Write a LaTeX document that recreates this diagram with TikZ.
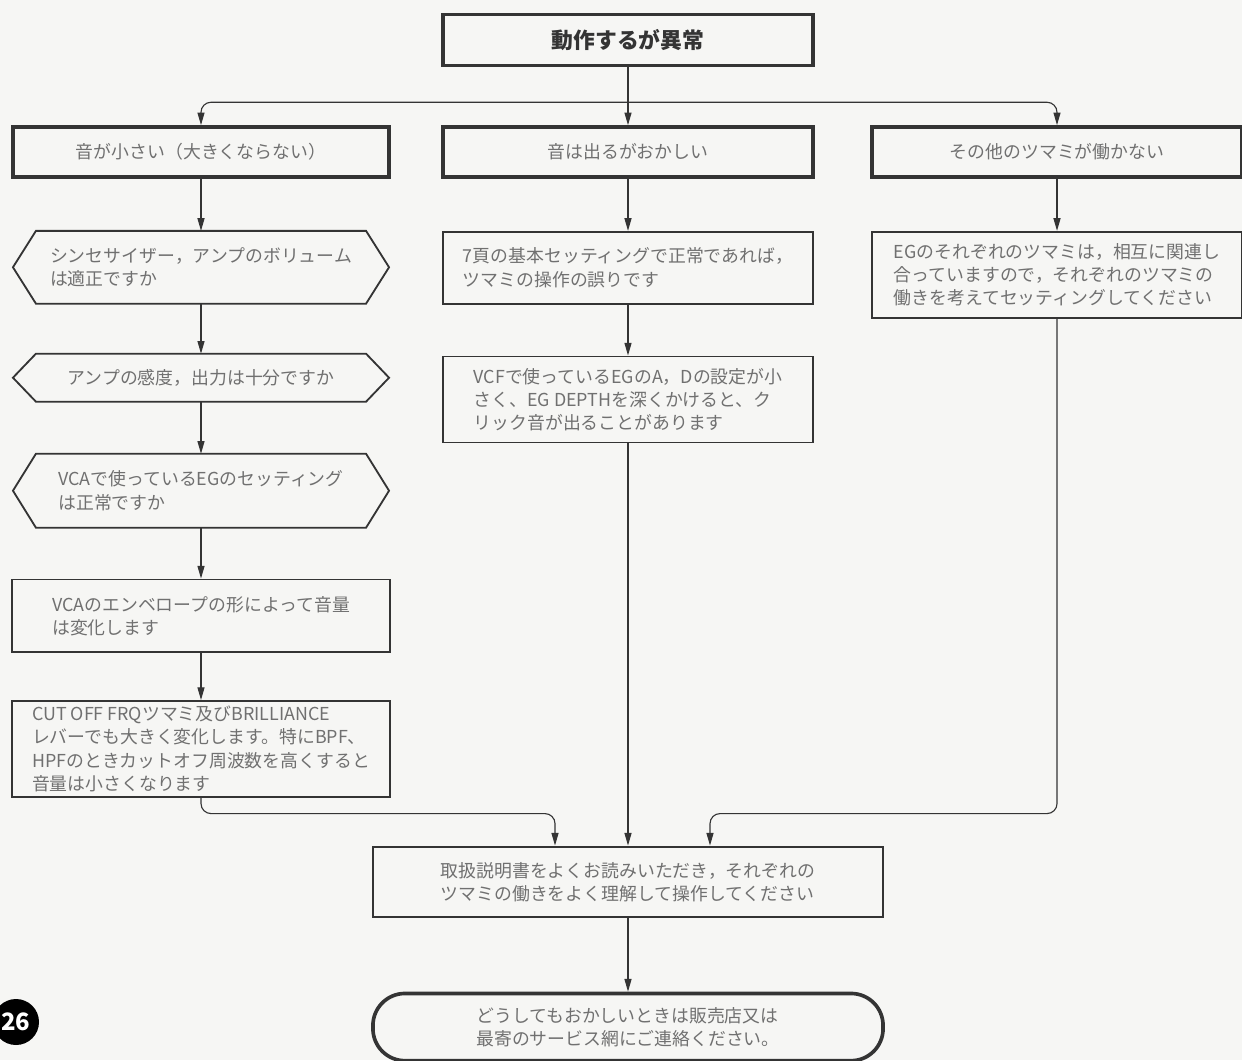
\documentclass[tikz,border=0pt]{standalone}
\usepackage{fontspec}
\setmainfont{Noto Sans CJK JP}
\usetikzlibrary{positioning,calc,arrows.meta}

\definecolor{ink}{RGB}{52,52,52}
\definecolor{print}{RGB}{112,112,112}
\definecolor{paper}{RGB}{246,246,244}

\tikzset{
  headbox/.style={draw=ink, line width=2.6pt, text=print, minimum height=1.25cm},
  box/.style={draw=ink, line width=1.3pt, text=print, align=left, minimum height=#1},
  hexbox/.style={text=print, align=left, minimum width=9.4cm, minimum height=#1, outer sep=0pt},
  endbox/.style={draw=ink, line width=2.6pt, rounded corners=0.8cm, text=print, align=left,
    minimum width=12.75cm, minimum height=1.68cm},
  flow/.style={draw=ink, line width=0.8pt, -{Triangle[length=9pt,width=5pt]}}
}

% six-sided frame round a question node
\newcommand{\hexframe}[1]{%
  \draw[ink, line width=1.3pt] (#1.west) -- ($(#1.north west)+(23,0)$)
    -- ($(#1.north east)+(-23,0)$) -- (#1.east) -- ($(#1.south east)+(-23,0)$)
    -- ($(#1.south west)+(23,0)$) -- cycle;}

\begin{document}
\begin{tikzpicture}[x=0.025cm, y=-0.025cm, font=\fontsize{12.7}{16.5}\selectfont]
  \useasboundingbox[fill=paper] (0,0) rectangle (1242,1060);

  \node[headbox, minimum width=9.25cm, minimum height=1.27cm, text=ink,
        font=\fontsize{15.5}{18}\selectfont\bfseries] (top) at (628,40) {動作するが異常};

  \node[headbox, minimum width=9.4cm] (small) at (201,152) {音が小さい（大きくならない）};
  \node[headbox, minimum width=9.25cm] (odd) at (628,152) {音は出るがおかしい};
  \node[headbox, minimum width=9.25cm] (knob) at (1057,152) {その他のツマミが働かない};

  % left column
  \node[hexbox=1.82cm, below=1.3cm of small] (volume) {シンセサイザー，アンプのボリューム\\は適正ですか};
  \node[hexbox=1.2cm, below=1.25cm of volume] (amp) {アンプの感度，出力は十分ですか};
  \node[hexbox=1.85cm, below=1.3cm of amp] (vcaeg) {VCAで使っているEGのセッティング\\は正常ですか};
  \hexframe{volume}
  \hexframe{amp}
  \hexframe{vcaeg}
  \node[box=1.82cm, minimum width=9.45cm, below=1.27cm of vcaeg] (env) {VCAのエンベロープの形によって音量\\は変化します};
  \node[box=2.4cm, minimum width=9.45cm, below=1.17cm of env] (cutoff)
    {CUT OFF FRQツマミ及びBRILLIANCE\\レバーでも大きく変化します。特にBPF、\\HPFのときカットオフ周波数を高くすると\\音量は小さくなります};

  % middle column
  \node[box=1.8cm, minimum width=9.25cm, below=1.3cm of odd] (basic) {7頁の基本セッティングで正常であれば，\\ツマミの操作の誤りです};
  \node[box=2.15cm, minimum width=9.25cm, below=1.27cm of basic] (click)
    {VCFで使っているEGのA，Dの設定が小\\さく、EG DEPTHを深くかけると、ク\\リック音が出ることがあります};

  % right column
  \node[box=2.15cm, minimum width=9.25cm, below=1.3cm of knob] (related)
    {EGのそれぞれのツマミは，相互に関連し\\合っていますので，それぞれのツマミの\\働きを考えてセッティングしてください};

  \node[box=1.75cm, minimum width=12.75cm, line width=2pt] (manual) at (628,882)
    {取扱説明書をよくお読みいただき，それぞれの\\ツマミの働きをよく理解して操作してください};
  \node[endbox, below=1.83cm of manual] (dealer) {どうしてもおかしいときは販売店又は\\最寄のサービス網にご連絡ください。};

  \node[circle, fill=black, text=white, minimum size=1.15cm, inner sep=0pt,
        font=\fontsize{17}{17}\selectfont\bfseries] (page) at (16,1022) {26};

  % connectors
  \coordinate (split) at ($(top.south)+(0,35)$);
  \coordinate (merge) at ($(manual.north)+(0,-32)$);
  \draw[flow] (top) -- (odd);
  \draw[flow, rounded corners=0.25cm] (split) -| (small);
  \draw[flow, rounded corners=0.25cm] (split) -| (knob);
  \draw[flow] (small) -- (volume);
  \draw[flow] (volume) -- (amp);
  \draw[flow] (amp) -- (vcaeg);
  \draw[flow] (vcaeg) -- (env);
  \draw[flow] (env) -- (cutoff);
  \draw[flow] (odd) -- (basic);
  \draw[flow] (basic) -- (click);
  \draw[flow] (knob) -- (related);
  \draw[flow, rounded corners=0.25cm] (cutoff.south) |- ($(merge)+(-73,0)$) -- ($(manual.north)+(-73,0)$);
  \draw[flow] (click) -- (manual);
  \draw[flow, rounded corners=0.25cm] (related.south) |- ($(merge)+(82,0)$) -- ($(manual.north)+(82,0)$);
  \draw[flow] (manual) -- (dealer);
\end{tikzpicture}
\end{document}
